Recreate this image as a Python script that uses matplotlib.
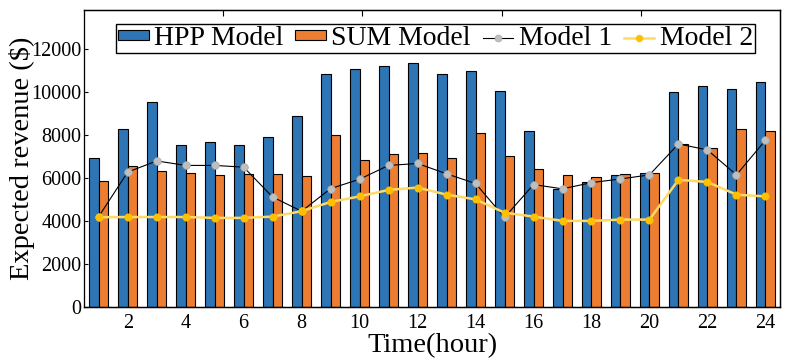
import numpy as np
import matplotlib
matplotlib.use("Agg")
import matplotlib.pyplot as plt

plt.rcParams['font.family'] = ['Liberation Serif', 'DejaVu Serif']
plt.rcParams['mathtext.fontset'] = 'stix'

hours = list(range(1, 25))
hpp = [6950, 8300, 9550, 7520, 7700, 7520, 7930, 8870, 10820, 11080, 11210, 11360,
       10850, 10990, 10050, 8200, 5510, 5810, 6140, 6260, 9990, 10300, 10150, 10450]
sum_model = [5850, 6580, 6350, 6230, 6130, 6180, 6210, 6100, 8010, 6840, 7120, 7170,
             6930, 8100, 7040, 6430, 6140, 6040, 6210, 6260, 7600, 7390, 8290, 8200]
model1 = [4210, 6280, 6800, 6590, 6590, 6510, 5120, 4460, 5510, 5950, 6590, 6680,
          6200, 5750, 4170, 5700, 5500, 5790, 5960, 6150, 7590, 7310, 6150, 7760]
model2 = [4180, 4190, 4190, 4190, 4150, 4150, 4210, 4460, 4890, 5150, 5450, 5560,
          5230, 5010, 4390, 4210, 4010, 4010, 4070, 4070, 5920, 5820, 5230, 5150]
xticks = list(range(2, 25, 2))
yticks = list(range(0, 12001, 2000))

fig = plt.figure(figsize=(7.87, 3.60), dpi=100)
ax = fig.add_axes([0.107, 0.147, 0.884, 0.824])

x = np.array(hours)
w = 0.32
blue = '#2e75b6'
orange = '#ed7d31'
b1 = ax.bar(x - w/2, hpp, w, color=blue, edgecolor='black', linewidth=0.8, label='HPP Model', zorder=2)
b2 = ax.bar(x + w/2, sum_model, w, color=orange, edgecolor='black', linewidth=0.8, label='SUM Model', zorder=2)
l1, = ax.plot(x, model1, color='black', linewidth=0.8, marker='o', markersize=5.5,
              markerfacecolor='#bfbfbf', markeredgecolor='#a6a6a6', markeredgewidth=0.5,
              label='Model 1', zorder=3)
l2, = ax.plot(x, model2, color='#ffd966', linewidth=1.8, marker='o', markersize=4.8,
              markerfacecolor='#ffc000', markeredgecolor='#ffc000', label='Model 2', zorder=4)

ax.set_xlim(0.5, 24.5)
ax.set_ylim(0, 13800)
ax.set_xticks(xticks)
ax.set_yticks(yticks)
ax.tick_params(axis='both', direction='in', labelsize=14.5, length=3)
ax.tick_params(axis='x', pad=5)
ax.tick_params(axis='y', pad=2)
for sp in ax.spines.values():
    sp.set_linewidth(1.0)
ax.spines['left'].set_color('#808080')

top = ax.twiny()
top.set_xlim(0, 5)
top.set_xticks([1, 2, 3, 4])
top.set_xticklabels([])
top.tick_params(axis='x', direction='in', length=4)

ax.set_xlabel('Time(hour)', fontsize=20.5, labelpad=0)
ax.set_ylabel('Expected revenue ($)', fontsize=20.5, labelpad=-3)

leg = ax.legend([b1, b2, l1, l2], ['HPP Model', 'SUM Model', 'Model 1', 'Model 2'],
                loc='upper center', bbox_to_anchor=(0.505, 0.955), ncol=4, fontsize=20,
                frameon=True, fancybox=False, edgecolor='black', framealpha=1,
                borderpad=0.08, handlelength=1.1, handleheight=0.15, handletextpad=0.2,
                columnspacing=0.42, borderaxespad=0, markerscale=0.9)
leg.get_frame().set_linewidth(1.0)

fig.savefig('out.png', dpi=100)
